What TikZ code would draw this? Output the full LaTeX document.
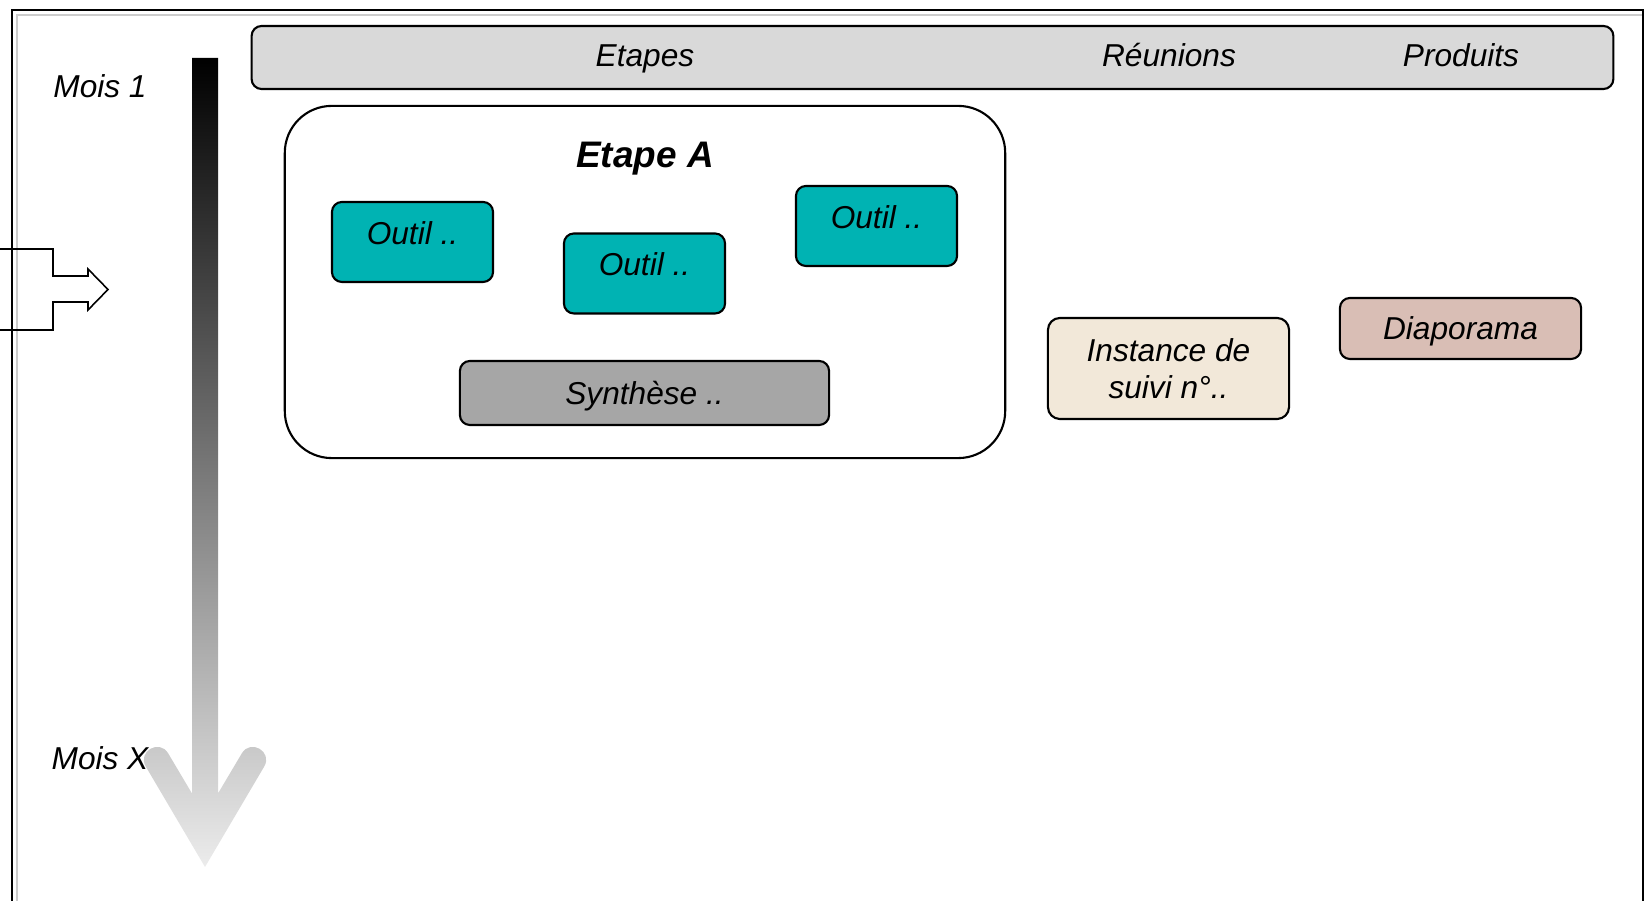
\documentclass[tikz,border=0pt]{standalone}
\usepackage{fontspec}
\setmainfont{Liberation Sans}
\definecolor{headgray}{HTML}{D9D9D9}
\definecolor{tooltea}{HTML}{00B3B3}
\definecolor{synthgray}{HTML}{A6A6A6}
\definecolor{instbeige}{HTML}{F2E8D9}
\definecolor{diapo}{HTML}{D9BEB5}
\begin{document}
\begin{tikzpicture}[x=0.01cm, y=-0.01cm, font=\fontsize{9}{10.5}\selectfont\itshape,
        lbl/.style={text height=3mm, text depth=0.7mm},
        box/.style={draw, line width=0.6pt, rounded corners=1mm, align=center, inner sep=0pt},
        tool/.style={box, fill=tooltea, minimum width=1.61cm, minimum height=0.8cm, text height=2.5mm, text depth=2mm}]
        \useasboundingbox (0,0) rectangle (1647,901);

        \draw[gray!40, line width=0.6pt] (17,901) |- (1643,15);
        \draw[line width=0.6pt] (12,901) |- (1643,10) -- (1643,901);

        \node[box, fill=headgray, minimum width=13.61cm, minimum height=0.63cm] (entete) at (932.5,57.5) {};
        \foreach \x/\n/\t in {645/etapes/Etapes, 1169/reunions/Réunions, 1461/produits/Produits}
            \node[lbl] (\n) at (\x,55) {\t};

        \shade[top color=black, bottom color=gray!15]
            (192,58) -- (192,793.5) -- (168.2,753.4)
            .. controls (159.4,738.5) and (137,751.7) .. (145.8,766.6)
            -- (205,867) -- (264.2,766.6)
            .. controls (273,751.7) and (250.6,738.5) .. (241.8,753.4)
            -- (218,793.5) -- (218,58) -- cycle;

        \node[lbl] (mois1) at (100,86) {Mois 1};
        \node[lbl] (moisX) at (100,758) {Mois X};

        \draw[line width=0.45pt] (-1,249) -- (53,249) -- (53,276) -- (88,276) -- (88,269)
            -- (108,289.5) -- (88,310) -- (88,302) -- (53,302) -- (53,330) -- (-1,330);

        \node[draw, line width=0.6pt, rounded corners=4.7mm, minimum width=7.2cm, minimum height=3.52cm] (etapeA) at (645,282) {};
        \node[font=\fontsize{10.5}{12}\selectfont\bfseries\itshape, text height=3.3mm, text depth=0.66mm] (titreA) at (645,154) {Etape A};

        \foreach \n/\x/\y in {1/412.5/242, 2/644.5/273.5, 3/876.5/226}
            \node[tool] (outil\n) at (\x,\y) {Outil ..};

        \node[box, lbl, fill=synthgray, minimum width=3.69cm, minimum height=0.64cm] (synthese) at (644.5,393) {Synthèse ..};

        \node[box, fill=instbeige, rounded corners=1.2mm, minimum width=2.41cm, minimum height=1.01cm] (instance) at (1168.5,368.5) {Instance de\\suivi n°..};
        \node[box, lbl, fill=diapo, minimum width=2.41cm, minimum height=0.61cm] (diaporama) at (1460.5,328.5) {Diaporama};
    \end{tikzpicture}
\end{document}
